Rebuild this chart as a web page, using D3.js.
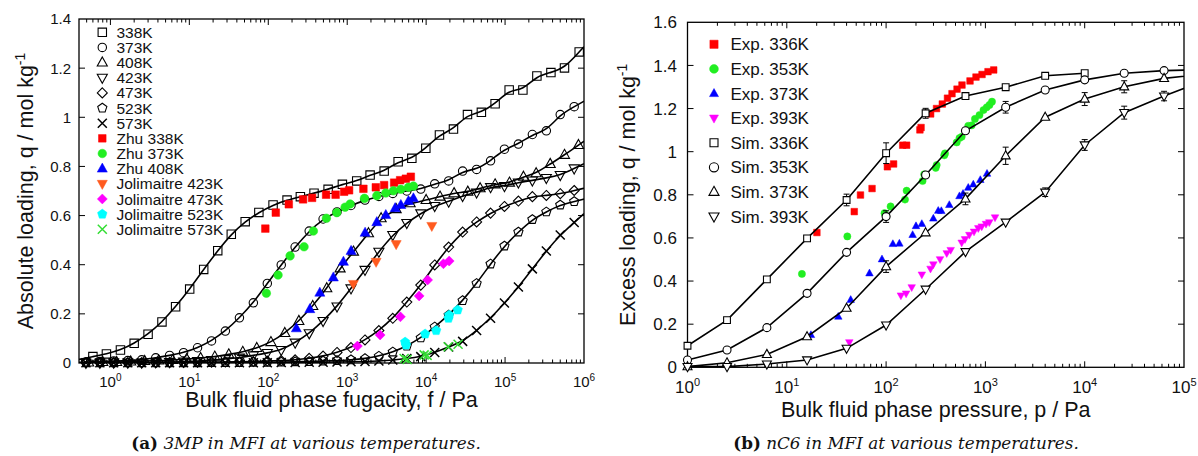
<!DOCTYPE html>
<html>
<head>
<meta charset="utf-8">
<script src="https://cdn.jsdelivr.net/npm/d3@7"></script>
<style>
  body { margin: 0; background: #fff; }
  svg { display: block; font-family: "Liberation Sans", Arial, sans-serif; }
</style>
</head>
<body>
<svg id="chart" width="1198" height="456"></svg>
<script>

// ---------------- panel (a): 3MP in MFI ----------------

// simulated isotherms, fugacity in Pa and loading in mol/kg
var fug_338 = [0.6, 0.89, 1.34, 2.0, 3.0, 4.5, 6.7, 10.1, 15.2, 22.9, 34, 51, 76, 115, 173, 255, 380, 573, 869, 1320,
  1950, 2940, 4420, 6590, 9910, 14750, 22200, 33400, 50100, 74800, 112700, 168200, 253000, 381000, 566000, 869000]
var load_338 = [0.026, 0.037, 0.053, 0.080, 0.117, 0.167, 0.229, 0.301, 0.381, 0.457, 0.524, 0.575, 0.613, 0.643, 0.663, 0.677, 0.691, 0.707, 0.727, 0.741,
  0.765, 0.781, 0.819, 0.833, 0.874, 0.928, 0.952, 1.011, 1.020, 1.055, 1.111, 1.111, 1.168, 1.182, 1.201, 1.266]

// fugacities shared by most of the other temperatures
var fug_grid = [0.49, 0.736, 1.10, 1.66, 2.49, 3.75, 5.62, 8.45, 12.7, 19.1, 28.6, 43.1, 64.7, 97.2, 146, 219, 330, 495, 743, 1117,
  1680, 2520, 3780, 5690, 8550, 12850, 19300, 29000, 43600, 65500, 98200, 147600, 221800, 333400, 500000, 751000]
var load_373 = [0.004, 0.006, 0.008, 0.010, 0.013, 0.021, 0.031, 0.042, 0.062, 0.090, 0.130, 0.184, 0.245, 0.324, 0.399, 0.472, 0.537, 0.586, 0.615, 0.641,
  0.663, 0.678, 0.690, 0.700, 0.708, 0.729, 0.741, 0.781, 0.788, 0.823, 0.870, 0.891, 0.930, 0.945, 1.011, 1.043]
var load_423 = [0.001, 0.001, 0.002, 0.002, 0.002, 0.004, 0.004, 0.006, 0.008, 0.012, 0.016, 0.022, 0.031, 0.041, 0.053, 0.083, 0.121, 0.171, 0.230, 0.304,
  0.379, 0.453, 0.521, 0.570, 0.609, 0.639, 0.657, 0.680, 0.694, 0.716, 0.720, 0.735, 0.743, 0.753, 0.765, 0.792]
var load_473 = [0.001, 0.001, 0.001, 0.001, 0.001, 0.001, 0.002, 0.002, 0.003, 0.003, 0.004, 0.005, 0.006, 0.008, 0.010, 0.013, 0.019, 0.028, 0.043, 0.063,
  0.094, 0.132, 0.182, 0.248, 0.317, 0.399, 0.472, 0.533, 0.574, 0.610, 0.637, 0.659, 0.677, 0.682, 0.689, 0.702]
var load_523 = [0.001, 0.001, 0.001, 0.001, 0.001, 0.001, 0.001, 0.001, 0.001, 0.002, 0.002, 0.002, 0.003, 0.003, 0.004, 0.005, 0.006, 0.008, 0.010, 0.013,
  0.018, 0.028, 0.045, 0.069, 0.102, 0.147, 0.195, 0.254, 0.324, 0.403, 0.476, 0.533, 0.584, 0.615, 0.643, 0.657]
var load_573 = [0.001, 0.001, 0.001, 0.001, 0.001, 0.001, 0.001, 0.001, 0.001, 0.001, 0.001, 0.001, 0.001, 0.001, 0.002, 0.002, 0.003, 0.003, 0.004, 0.005,
  0.006, 0.008, 0.012, 0.018, 0.026, 0.043, 0.065, 0.088, 0.132, 0.182, 0.244, 0.309, 0.383, 0.456, 0.521, 0.572]

var fug_408 = [0.53, 0.80, 1.20, 1.81, 2.72, 4.09, 6.16, 9.27, 13.9, 21.0, 31.6, 47.5, 71.5, 108, 162, 244, 366, 551, 813, 1200,
  1860, 2690, 4170, 6270, 10000, 15000, 22600, 33700, 48300, 74800, 113700, 171000, 247700, 373000, 566000, 851000]
var load_408 = [0.002, 0.004, 0.004, 0.006, 0.008, 0.010, 0.012, 0.016, 0.020, 0.026, 0.035, 0.045, 0.061, 0.085, 0.122, 0.171, 0.232, 0.304, 0.385, 0.453,
  0.528, 0.589, 0.626, 0.650, 0.663, 0.677, 0.691, 0.697, 0.711, 0.727, 0.734, 0.758, 0.772, 0.810, 0.847, 0.887]

// experimental points
var zhu338_f = [91.8, 124.5, 182, 276, 359, 540, 713, 914, 1057, 1604, 2303, 2936, 3930, 4680, 5530, 6400]
var zhu338_q = [0.547, 0.612, 0.646, 0.666, 0.672, 0.685, 0.685, 0.697, 0.703, 0.709, 0.715, 0.724, 0.734, 0.744, 0.750, 0.758]
var zhu373_f = [94.6, 133, 189, 284, 373, 545, 738, 940, 1089, 1652, 2373, 3083, 3850, 4780, 5970, 6900]
var zhu373_q = [0.284, 0.358, 0.436, 0.473, 0.537, 0.589, 0.612, 0.634, 0.647, 0.670, 0.681, 0.692, 0.701, 0.707, 0.715, 0.720]
var zhu408_f = [227, 336, 450, 667, 896, 1120, 1686, 2373, 3083, 4050, 4780, 5970, 6900]
var zhu408_q = [0.141, 0.219, 0.286, 0.348, 0.412, 0.456, 0.530, 0.573, 0.602, 0.630, 0.643, 0.659, 0.670]
var jol423_f = [1197, 2323, 4170, 11800]
var jol423_q = [0.322, 0.412, 0.484, 0.558]
var jol473_f = [1346, 2612, 4720, 8150, 10440, 16560, 19580]
var jol473_q = [0.069, 0.114, 0.188, 0.273, 0.338, 0.404, 0.415]
var jol523_f = [5420, 5570, 9710, 13400, 19190, 19580, 25100]
var jol523_q = [0.085, 0.073, 0.118, 0.132, 0.182, 0.195, 0.216]
var jol573_f = [5260, 5740, 9440, 10300, 19000, 25400]
var jol573_q = [0.018, 0.014, 0.033, 0.031, 0.066, 0.076]

var legend_a = ["338K", "373K", "408K", "423K", "473K", "523K", "573K", "Zhu 338K", "Zhu 373K", "Zhu 408K",
  "Jolimaitre 423K", "Jolimaitre 473K", "Jolimaitre 523K", "Jolimaitre 573K"]
var decades_a = [0, 1, 2, 3, 4, 5, 6]

// ---------------- panel (b): nC6 in MFI ----------------

var press_sim = [1, 2.5, 6.3, 16, 40, 100, 250, 630, 1600, 4000, 10000, 25000, 63000, 160000]
var sim336_q = [0.100, 0.219, 0.408, 0.598, 0.776, 0.993, 1.178, 1.258, 1.299, 1.352, 1.364]
var sim336_err = [0, 0, 0, 0, 0.027, 0.048, 0.023, 0, 0, 0, 0]
var sim353_q = [0.034, 0.080, 0.184, 0.343, 0.533, 0.699, 0.892, 1.097, 1.206, 1.286, 1.333, 1.364, 1.376, 1.380]
var sim353_err = [0, 0, 0, 0, 0, 0.027, 0, 0, 0.027, 0, 0, 0, 0, 0]
var sim373_q = [0.003, 0.021, 0.060, 0.142, 0.274, 0.467, 0.624, 0.781, 0.981, 1.160, 1.244, 1.301, 1.340, 1.360]
var sim373_err = [0, 0, 0, 0, 0, 0.027, 0, 0.027, 0.040, 0, 0.030, 0.028, 0, 0]
var sim393_q = [0.003, 0.003, 0.015, 0.034, 0.088, 0.196, 0.362, 0.536, 0.673, 0.812, 1.031, 1.181, 1.258, 1.330]
var sim393_err = [0, 0, 0, 0, 0, 0, 0, 0, 0, 0.020, 0.025, 0.030, 0.022, 0]

var exp336_p = [20.1, 47.8, 55.2, 72.2, 103, 119, 147, 161, 219, 225, 281, 322, 368, 415, 461, 518, 581, 700, 804, 925, 1062, 1213]
var exp336_q = [0.625, 0.722, 0.799, 0.829, 0.930, 0.943, 1.030, 1.030, 1.101, 1.112, 1.175, 1.200, 1.221, 1.248, 1.269, 1.290, 1.309, 1.328, 1.346, 1.358, 1.371, 1.379]
var exp353_p = [14.2, 40.7, 96.4, 111, 155, 161, 233, 242, 316, 323, 385, 392, 514, 548, 577, 672, 728, 785, 872, 957, 1031, 1100, 1165]
var exp353_q = [0.433, 0.607, 0.715, 0.746, 0.778, 0.819, 0.864, 0.895, 0.925, 0.938, 0.983, 0.992, 1.043, 1.063, 1.069, 1.120, 1.122, 1.152, 1.170, 1.193, 1.206, 1.217, 1.232]
var exp373_p = [17.5, 33.0, 44.0, 68.0, 90.9, 117, 136, 185, 200, 229, 299, 335, 360, 433, 548, 595, 672, 755, 889, 1038]
var exp373_q = [0.150, 0.235, 0.313, 0.436, 0.501, 0.572, 0.574, 0.614, 0.655, 0.665, 0.690, 0.726, 0.725, 0.753, 0.794, 0.805, 0.833, 0.848, 0.869, 0.898]
var exp393_p = [42.6, 141, 159, 181, 229, 280, 299, 349, 408, 447, 577, 623, 689, 768, 848, 918, 1014, 1094, 1250]
var exp393_q = [0.116, 0.333, 0.342, 0.371, 0.430, 0.457, 0.477, 0.501, 0.529, 0.544, 0.578, 0.594, 0.614, 0.629, 0.645, 0.653, 0.665, 0.672, 0.695]

var legend_b = ["Exp. 336K", "Exp. 353K", "Exp. 373K", "Exp. 393K", "Sim. 336K", "Sim. 353K", "Sim. 373K", "Sim. 393K"]
var decades_b = [0, 1, 2, 3, 4, 5]


var svg = d3.select("#chart")

// path for a gnuplot-like point symbol centred on 0,0
function marker_path(shape, r){
	if (shape == "square") {
		return "M" + (-r) + "," + (-r) + "h" + (2 * r) + "v" + (2 * r) + "h" + (-2 * r) + "Z"
	}
	if (shape == "circle") {
		return "M" + r + ",0A" + r + "," + r + " 0 1,1 " + (-r) + ",0A" + r + "," + r + " 0 1,1 " + r + ",0Z"
	}
	if (shape == "up" || shape == "down") {
		var s = shape == "up" ? 1 : -1
		return "M0," + (-r * s) + "L" + (r * 0.9) + "," + (r * 0.62 * s) + "L" + (-r * 0.9) + "," + (r * 0.62 * s) + "Z"
	}
	if (shape == "diamond") {
		return "M0," + (-r) + "L" + r + ",0L0," + r + "L" + (-r) + ",0Z"
	}
	if (shape == "pentagon") {
		var pts = d3.range(5).map(function(k){
			var a = -Math.PI / 2 + k * 2 * Math.PI / 5
			return [r * Math.cos(a), r * Math.sin(a)]
		})
		return "M" + pts.join("L") + "Z"
	}
	// cross
	return "M" + (-r) + "," + (-r) + "L" + r + "," + r + "M" + (-r) + "," + r + "L" + r + "," + (-r)
}

// append one symbol; open symbols get a fill, crosses only a stroke
function add_marker(g, shape, r, cx, cy, color, filled, open_fill){
	var cross = shape == "cross"
	g.append("path")
		.attr("d", marker_path(shape, r))
		.attr("transform", "translate(" + cx + "," + cy + ")")
		.attr("fill", cross ? "none" : (filled ? color : open_fill))
		.attr("stroke", color)
		.attr("stroke-width", cross ? 1.5 : (filled ? 0.5 : 1.1))
}

// frame, ticks and tick labels of one panel
function draw_frame(p){
	var x = d3.scaleLog().domain(p.xdomain).range([p.left, p.right])
	var y = d3.scaleLinear().domain(p.ydomain).range([p.bottom, p.top])
	var g = svg.append("g")

	g.append("clipPath")
		.attr("id", p.id + "-clip")
		.append("rect")
		.attr("x", p.left)
		.attr("y", p.top)
		.attr("width", p.right - p.left)
		.attr("height", p.bottom - p.top)

	// log ticks on bottom and top, longer at the decades
	x.ticks().forEach(function(t){
		var major = Math.abs(Math.log10(t) - Math.round(Math.log10(t))) < 1e-9
		var len = major ? 6 : 3.5
		var px = x(t)
		if (px < p.left + 0.5 || px > p.right - 0.5) return
		g.append("line").attr("x1", px).attr("x2", px).attr("y1", p.bottom).attr("y2", p.bottom - len)
			.attr("stroke", "#000").attr("stroke-width", 1)
		g.append("line").attr("x1", px).attr("x2", px).attr("y1", p.top).attr("y2", p.top + len)
			.attr("stroke", "#000").attr("stroke-width", 1)
	})

	// decade labels as 10 with a raised exponent
	p.decades.forEach(function(e){
		var lab = g.append("text")
			.attr("x", x(Math.pow(10, e)))
			.attr("y", p.xlabel_y)
			.attr("text-anchor", "middle")
			.attr("font-size", p.tick_font)
			.attr("fill", "#111")
		lab.append("tspan").text("10")
		lab.append("tspan").attr("dy", -p.sup_shift).attr("font-size", p.sup_font).text(e)
	})

	// linear ticks on left and right
	y.ticks(p.ydomain[1] / 0.2).forEach(function(t){
		var py = y(t)
		if (t > p.ydomain[0] && t < p.ydomain[1]) {
			g.append("line").attr("x1", p.left).attr("x2", p.left + 6).attr("y1", py).attr("y2", py)
				.attr("stroke", "#000").attr("stroke-width", 1)
			g.append("line").attr("x1", p.right).attr("x2", p.right - 6).attr("y1", py).attr("y2", py)
				.attr("stroke", "#000").attr("stroke-width", 1)
		}
		g.append("text")
			.attr("x", p.ylabel_x)
			.attr("y", py)
			.attr("dy", "0.36em")
			.attr("text-anchor", "end")
			.attr("font-size", p.tick_font)
			.attr("fill", "#111")
			.text(d3.format("~g")(t))
	})

	g.append("rect")
		.attr("x", p.left)
		.attr("y", p.top)
		.attr("width", p.right - p.left)
		.attr("height", p.bottom - p.top)
		.attr("fill", "none")
		.attr("stroke", "#000")
		.attr("stroke-width", 1.3)

	// axis titles
	g.append("text")
		.attr("x", (p.left + p.right) / 2)
		.attr("y", p.xtitle_y)
		.attr("text-anchor", "middle")
		.attr("font-size", 21.5)
		.attr("fill", "#111")
		.text(p.xtitle)

	var yt = g.append("text")
		.attr("transform", "translate(" + p.ytitle_x + "," + ((p.top + p.bottom) / 2) + ") rotate(-90)")
		.attr("text-anchor", "middle")
		.attr("font-size", 21.5)
		.attr("fill", "#111")
	yt.append("tspan").text(p.ytitle)
	yt.append("tspan").attr("dy", -8).attr("font-size", 14).text("-1")

	// caption below the panel
	var cap = svg.append("text")
		.attr("x", p.caption_x)
		.attr("y", 449)
		.attr("text-anchor", "middle")
		.attr("font-family", "'DejaVu Serif', 'Liberation Serif', serif")
		.attr("font-size", 16.8)
		.attr("fill", "#111")
	cap.append("tspan").attr("font-weight", "bold").text(p.caption[0])
	cap.append("tspan").attr("font-style", "italic").text(" " + p.caption[1])

	return {x: x, y: y, g: g}
}

// add straight ends so a fitted curve reaches both edges of the panel
function extend_ends(fs, qs, dom){
	var lx = Math.log10
	var pts = fs.map(function(f, i){ return [f, qs[i]] })
	var n = pts.length
	var s0 = (pts[1][1] - pts[0][1]) / (lx(pts[1][0]) - lx(pts[0][0]))
	var s1 = (pts[n - 1][1] - pts[n - 2][1]) / (lx(pts[n - 1][0]) - lx(pts[n - 2][0]))
	var q0 = Math.max(0, pts[0][1] - s0 * (lx(pts[0][0]) - lx(dom[0])))
	var q1 = pts[n - 1][1] + s1 * (lx(dom[1]) - lx(pts[n - 1][0]))
	return [[dom[0], q0]].concat(pts, [[dom[1], q1]])
}


// ---------- draw panel (a) ----------
function draw_panel_a(){
	var p = {
		id: "pa", left: 79, right: 584, top: 19, bottom: 363,
		xdomain: [0.4, 1e6], ydomain: [0, 1.4], decades: decades_a,
		tick_font: 15, sup_font: 10, sup_shift: 6, xlabel_y: 386.5, ylabel_x: 71,
		xtitle: "Bulk fluid phase fugacity, f / Pa", xtitle_y: 407,
		ytitle: "Absolute loading, q / mol kg", ytitle_x: 33,
		caption_x: 306, caption: ["(a)", "3MP in MFI at various temperatures."]
	}
	var fr = draw_frame(p)
	var x = fr.x, y = fr.y, g = fr.g

	var sims = [
		{f: fug_338, q: load_338, shape: "square", r: 4.2},
		{f: fug_grid, q: load_373, shape: "circle", r: 4.2},
		{f: fug_408, q: load_408, shape: "up", r: 5.6},
		{f: fug_grid, q: load_423, shape: "down", r: 5.6},
		{f: fug_grid, q: load_473, shape: "diamond", r: 5},
		{f: fug_grid, q: load_523, shape: "pentagon", r: 4.8},
		{f: fug_grid, q: load_573, shape: "cross", r: 4.5}
	]
	var exps = [
		{f: zhu338_f, q: zhu338_q, shape: "square", r: 3.8, color: "#ff0000"},
		{f: zhu373_f, q: zhu373_q, shape: "circle", r: 4.3, color: "#22ee22"},
		{f: zhu408_f, q: zhu408_q, shape: "up", r: 5.6, color: "#0000ff"},
		{f: jol423_f, q: jol423_q, shape: "down", r: 5.6, color: "#ff5a1e"},
		{f: jol473_f, q: jol473_q, shape: "diamond", r: 5, color: "#ff00ff"},
		{f: jol523_f, q: jol523_q, shape: "pentagon", r: 5, color: "#00ffff"},
		{f: jol573_f, q: jol573_q, shape: "cross", r: 4.5, color: "#33dd33"}
	]

	var line = d3.line()
		.x(function(d){ return x(d[0]) })
		.y(function(d){ return y(d[1]) })
		.curve(d3.curveBasis)

	var lines = g.append("g").attr("clip-path", "url(#pa-clip)")
	sims.forEach(function(s){
		lines.append("path")
			.attr("d", line(extend_ends(s.f, s.q, p.xdomain)))
			.attr("fill", "none")
			.attr("stroke", "#000")
			.attr("stroke-width", 1.6)
	})

	sims.forEach(function(s){
		s.f.forEach(function(f, i){
			add_marker(g, s.shape, s.r, x(f), y(s.q[i]), "#000", false, "none")
		})
	})
	exps.forEach(function(s){
		s.f.forEach(function(f, i){
			add_marker(g, s.shape, s.r, x(f), y(s.q[i]), s.color, true)
		})
	})

	// legend in the upper left corner
	var items = sims.map(function(s){ return {shape: s.shape, r: s.r, color: "#000", filled: false} })
		.concat(exps.map(function(s){ return {shape: s.shape, r: s.r, color: s.color, filled: true} }))
	items.forEach(function(it, k){
		var ly = 32.3 + k * 15.15
		add_marker(g, it.shape, it.r, 102.3, ly, it.color, it.filled, "none")
		g.append("text")
			.attr("x", 116.5)
			.attr("y", ly)
			.attr("dy", "0.36em")
			.attr("font-size", 15.5)
			.attr("fill", "#111")
			.text(legend_a[k])
	})
}


// ---------- draw panel (b) ----------
function draw_panel_b(){
	var p = {
		id: "pb", left: 687.5, right: 1184, top: 22.3, bottom: 367.3,
		xdomain: [1, 1e5], ydomain: [0, 1.6], decades: decades_b,
		tick_font: 17, sup_font: 11, sup_shift: 7, xlabel_y: 393, ylabel_x: 677,
		xtitle: "Bulk fluid phase pressure, p / Pa", xtitle_y: 417,
		ytitle: "Excess loading, q / mol kg", ytitle_x: 635,
		caption_x: 906, caption: ["(b)", "nC6 in MFI at various temperatures."]
	}
	var fr = draw_frame(p)
	var x = fr.x, y = fr.y, g = fr.g

	var exps = [
		{p: exp336_p, q: exp336_q, shape: "square", r: 3.3, color: "#ff0000"},
		{p: exp353_p, q: exp353_q, shape: "circle", r: 3.6, color: "#22ee22"},
		{p: exp373_p, q: exp373_q, shape: "up", r: 4.2, color: "#0000ff"},
		{p: exp393_p, q: exp393_q, shape: "down", r: 4.2, color: "#ff00ff"}
	]
	var sims = [
		{q: sim336_q, err: sim336_err, shape: "square", r: 3.4},
		{q: sim353_q, err: sim353_err, shape: "circle", r: 4},
		{q: sim373_q, err: sim373_err, shape: "up", r: 5},
		{q: sim393_q, err: sim393_err, shape: "down", r: 5}
	]

	exps.forEach(function(s){
		s.p.forEach(function(v, i){
			add_marker(g, s.shape, s.r, x(v), y(s.q[i]), s.color, true)
		})
	})

	var line = d3.line()
		.x(function(d){ return x(d[0]) })
		.y(function(d){ return y(d[1]) })

	var lines = g.append("g").attr("clip-path", "url(#pb-clip)")
	sims.forEach(function(s){
		var pts = s.q.map(function(q, i){ return [press_sim[i], q] })
		lines.append("path")
			.attr("d", line(pts))
			.attr("fill", "none")
			.attr("stroke", "#000")
			.attr("stroke-width", 1.6)
	})

	sims.forEach(function(s){
		s.q.forEach(function(q, i){
			var v = press_sim[i]
			if (v > p.xdomain[1]) return
			var px = x(v)
			if (s.err[i] > 0) {
				var y1 = y(q - s.err[i]), y2 = y(q + s.err[i])
				g.append("path")
					.attr("d", "M" + px + "," + y1 + "V" + y2 + "M" + (px - 3) + "," + y1 + "h6M" + (px - 3) + "," + y2 + "h6")
					.attr("fill", "none")
					.attr("stroke", "#000")
					.attr("stroke-width", 1)
			}
			add_marker(g, s.shape, s.r, px, y(q), "#000", false, "#fff")
		})
	})

	var items = exps.map(function(s){ return {shape: s.shape, r: s.r + 0.8, color: s.color, filled: true} })
		.concat(sims.map(function(s){ return {shape: s.shape, r: s.r + 0.6, color: "#000", filled: false} }))
	items.forEach(function(it, k){
		var ly = 44.3 + k * 24.6
		add_marker(g, it.shape, it.r, 714, ly, it.color, it.filled, "#fff")
		g.append("text")
			.attr("x", 730.5)
			.attr("y", ly)
			.attr("dy", "0.36em")
			.attr("font-size", 17)
			.attr("fill", "#111")
			.text(legend_b[k])
	})
}


draw_panel_a()
draw_panel_b()

</script>
</body>
</html>
